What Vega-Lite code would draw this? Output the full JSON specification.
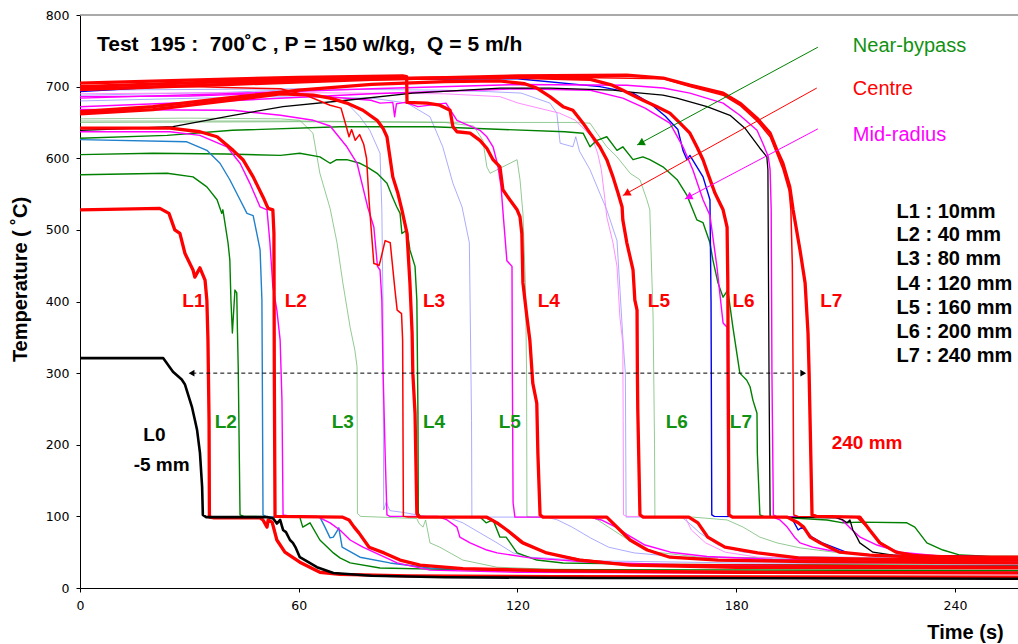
{
"$schema": "https://vega.github.io/schema/vega-lite/v6.json",
"width": 938, "height": 573,
"autosize": {"type": "none"},
"padding": {"left": 80, "top": 15, "right": 0, "bottom": 56},
"background": "white",
"config": {"view": {"stroke": null}, "axis": {"grid": false}},
"datasets": {
"curves": [
{"s":"L0","t":0,"T":321},{"s":"L0","t":22.8,"T":321},{"s":"L0","t":25.5,"T":302},{"s":"L0","t":27.9,"T":291},{"s":"L0","t":28.8,"T":284},{"s":"L0","t":30.7,"T":253},{"s":"L0","t":31.5,"T":235},{"s":"L0","t":32.1,"T":221},{"s":"L0","t":32.9,"T":189},{"s":"L0","t":33.5,"T":141},{"s":"L0","t":33.7,"T":102},{"s":"L0","t":34.6,"T":99},{"s":"L0","t":51.3,"T":99},{"s":"L0","t":53,"T":97},{"s":"L0","t":54,"T":90},{"s":"L0","t":54.9,"T":95},{"s":"L0","t":55.7,"T":81},{"s":"L0","t":56.5,"T":78},{"s":"L0","t":57.6,"T":67},{"s":"L0","t":58.4,"T":63},{"s":"L0","t":59.2,"T":56},{"s":"L0","t":60.3,"T":43},{"s":"L0","t":65,"T":29},{"s":"L0","t":69.5,"T":21},{"s":"L0","t":80,"T":17},{"s":"L0","t":100,"T":15},{"s":"L0","t":140,"T":14},{"s":"L0","t":257.5,"T":13},
{"s":"K","t":0,"T":639},{"s":"K","t":25.5,"T":644},{"s":"K","t":42,"T":660},{"s":"K","t":55.7,"T":672},{"s":"K","t":73.2,"T":681},{"s":"K","t":91.3,"T":691},{"s":"K","t":115.2,"T":698},{"s":"K","t":128.9,"T":698},{"s":"K","t":146.2,"T":695},{"s":"K","t":151.7,"T":692},{"s":"K","t":159.9,"T":688},{"s":"K","t":163.7,"T":684},{"s":"K","t":172,"T":672},{"s":"K","t":178.3,"T":660},{"s":"K","t":182.4,"T":642},{"s":"K","t":186.5,"T":614},{"s":"K","t":188.4,"T":602},{"s":"K","t":188.7,"T":584},{"s":"K","t":189,"T":300},{"s":"K","t":189.3,"T":99},{"s":"K","t":207.6,"T":98},{"s":"K","t":209.3,"T":95},{"s":"K","t":210.4,"T":91},{"s":"K","t":211.2,"T":95},{"s":"K","t":212,"T":81},{"s":"K","t":213.1,"T":71},{"s":"K","t":213.9,"T":63},{"s":"K","t":217.5,"T":50},{"s":"K","t":223,"T":46},{"s":"K","t":257.5,"T":43},
{"s":"R1","t":0,"T":528},{"s":"R1","t":21.9,"T":530},{"s":"R1","t":24.4,"T":523},{"s":"R1","t":26,"T":500},{"s":"R1","t":27.4,"T":495},{"s":"R1","t":28.8,"T":467},{"s":"R1","t":31,"T":444},{"s":"R1","t":31.5,"T":434},{"s":"R1","t":32.9,"T":447},{"s":"R1","t":34.3,"T":430},{"s":"R1","t":34.8,"T":402},{"s":"R1","t":35.1,"T":346},{"s":"R1","t":35.4,"T":234},{"s":"R1","t":35.5,"T":99},{"s":"R1","t":36.8,"T":98},{"s":"R1","t":49.4,"T":98},{"s":"R1","t":50.2,"T":95},{"s":"R1","t":51.3,"T":85},{"s":"R1","t":51.6,"T":95},{"s":"R1","t":52.7,"T":92},{"s":"R1","t":54,"T":67},{"s":"R1","t":56.2,"T":50},{"s":"R1","t":60.3,"T":36},{"s":"R1","t":65.8,"T":22},{"s":"R1","t":71.3,"T":19},{"s":"R1","t":90,"T":17},{"s":"R1","t":130,"T":16},{"s":"R1","t":257.5,"T":15},
{"s":"R2","t":0,"T":642},{"s":"R2","t":24.7,"T":642},{"s":"R2","t":32.9,"T":637},{"s":"R2","t":37.6,"T":630},{"s":"R2","t":42,"T":611},{"s":"R2","t":44.7,"T":598},{"s":"R2","t":47.5,"T":574},{"s":"R2","t":50.2,"T":546},{"s":"R2","t":51.6,"T":530},{"s":"R2","t":52.9,"T":528},{"s":"R2","t":53.2,"T":495},{"s":"R2","t":53.3,"T":300},{"s":"R2","t":53.5,"T":100},{"s":"R2","t":71.9,"T":99},{"s":"R2","t":73.8,"T":95},{"s":"R2","t":75.2,"T":85},{"s":"R2","t":76.5,"T":77},{"s":"R2","t":79.3,"T":57},{"s":"R2","t":83.4,"T":49},{"s":"R2","t":87.8,"T":39},{"s":"R2","t":93.3,"T":32},{"s":"R2","t":105,"T":27},{"s":"R2","t":130,"T":24},{"s":"R2","t":180,"T":22},{"s":"R2","t":257.5,"T":21},
{"s":"R3","t":0,"T":662},{"s":"R3","t":20,"T":668},{"s":"R3","t":40,"T":680},{"s":"R3","t":55,"T":690},{"s":"R3","t":64,"T":688},{"s":"R3","t":68.6,"T":684},{"s":"R3","t":73.2,"T":677},{"s":"R3","t":77.6,"T":667},{"s":"R3","t":81.5,"T":653},{"s":"R3","t":83.1,"T":642},{"s":"R3","t":84.2,"T":630},{"s":"R3","t":85,"T":602},{"s":"R3","t":85.8,"T":574},{"s":"R3","t":87.2,"T":551},{"s":"R3","t":88.3,"T":528},{"s":"R3","t":89.7,"T":495},{"s":"R3","t":90.5,"T":426},{"s":"R3","t":91.1,"T":356},{"s":"R3","t":91.3,"T":300},{"s":"R3","t":91.9,"T":244},{"s":"R3","t":92.4,"T":104},{"s":"R3","t":93,"T":99},{"s":"R3","t":111.6,"T":99},{"s":"R3","t":114.4,"T":91},{"s":"R3","t":117.1,"T":81},{"s":"R3","t":121.5,"T":63},{"s":"R3","t":128,"T":49},{"s":"R3","t":137,"T":39},{"s":"R3","t":150.9,"T":32},{"s":"R3","t":180,"T":29},{"s":"R3","t":257.5,"T":28},
{"s":"R4","t":0,"T":705},{"s":"R4","t":30,"T":709},{"s":"R4","t":60,"T":713},{"s":"R4","t":88.5,"T":715},{"s":"R4","t":89.6,"T":714},{"s":"R4","t":89.7,"T":678},{"s":"R4","t":95.2,"T":677},{"s":"R4","t":98.7,"T":674},{"s":"R4","t":101.5,"T":667},{"s":"R4","t":102.3,"T":644},{"s":"R4","t":103.4,"T":637},{"s":"R4","t":107,"T":635},{"s":"R4","t":109.7,"T":625},{"s":"R4","t":111.6,"T":614},{"s":"R4","t":113.3,"T":598},{"s":"R4","t":115.2,"T":588},{"s":"R4","t":116,"T":556},{"s":"R4","t":117.9,"T":542},{"s":"R4","t":119.9,"T":528},{"s":"R4","t":120.7,"T":518},{"s":"R4","t":121.2,"T":495},{"s":"R4","t":121.5,"T":426},{"s":"R4","t":122.6,"T":378},{"s":"R4","t":123.4,"T":346},{"s":"R4","t":124.2,"T":286},{"s":"R4","t":125.3,"T":258},{"s":"R4","t":125.6,"T":188},{"s":"R4","t":126.2,"T":102},{"s":"R4","t":127,"T":99},{"s":"R4","t":144.5,"T":99},{"s":"R4","t":148.1,"T":81},{"s":"R4","t":150.9,"T":67},{"s":"R4","t":155.6,"T":53},{"s":"R4","t":161.8,"T":43},{"s":"R4","t":175,"T":39},{"s":"R4","t":200,"T":37},{"s":"R4","t":257.5,"T":35},
{"s":"R5","t":0,"T":665},{"s":"R5","t":20,"T":672},{"s":"R5","t":40,"T":684},{"s":"R5","t":60,"T":695},{"s":"R5","t":80,"T":703},{"s":"R5","t":100,"T":707},{"s":"R5","t":115,"T":708},{"s":"R5","t":122,"T":704},{"s":"R5","t":125.3,"T":698},{"s":"R5","t":128.9,"T":686},{"s":"R5","t":132.5,"T":672},{"s":"R5","t":135.2,"T":667},{"s":"R5","t":138,"T":649},{"s":"R5","t":139.9,"T":635},{"s":"R5","t":142.6,"T":616},{"s":"R5","t":144.5,"T":598},{"s":"R5","t":146.2,"T":574},{"s":"R5","t":147.6,"T":551},{"s":"R5","t":148.7,"T":532},{"s":"R5","t":148.9,"T":514},{"s":"R5","t":150,"T":482},{"s":"R5","t":151.7,"T":444},{"s":"R5","t":152.2,"T":402},{"s":"R5","t":152.8,"T":388},{"s":"R5","t":152.9,"T":300},{"s":"R5","t":153,"T":250},{"s":"R5","t":153.6,"T":102},{"s":"R5","t":154.5,"T":99},{"s":"R5","t":167,"T":99},{"s":"R5","t":169.5,"T":91},{"s":"R5","t":172.2,"T":71},{"s":"R5","t":176.9,"T":57},{"s":"R5","t":185.9,"T":49},{"s":"R5","t":197,"T":42},{"s":"R5","t":220,"T":40},{"s":"R5","t":257.5,"T":39},
{"s":"R6","t":0,"T":700},{"s":"R6","t":40,"T":707},{"s":"R6","t":80,"T":711},{"s":"R6","t":120,"T":713},{"s":"R6","t":140,"T":710},{"s":"R6","t":146,"T":702},{"s":"R6","t":148.9,"T":695},{"s":"R6","t":154.4,"T":681},{"s":"R6","t":158.3,"T":672},{"s":"R6","t":161.8,"T":663},{"s":"R6","t":164.6,"T":649},{"s":"R6","t":167.3,"T":635},{"s":"R6","t":169.2,"T":616},{"s":"R6","t":170.9,"T":598},{"s":"R6","t":172.2,"T":579},{"s":"R6","t":174.2,"T":551},{"s":"R6","t":176.4,"T":528},{"s":"R6","t":177.5,"T":504},{"s":"R6","t":177.7,"T":426},{"s":"R6","t":177.8,"T":300},{"s":"R6","t":178,"T":102},{"s":"R6","t":179,"T":99},{"s":"R6","t":194,"T":99},{"s":"R6","t":195.5,"T":95},{"s":"R6","t":197,"T":91},{"s":"R6","t":198.5,"T":85},{"s":"R6","t":200.3,"T":71},{"s":"R6","t":203,"T":63},{"s":"R6","t":208.4,"T":50},{"s":"R6","t":216.6,"T":46},{"s":"R6","t":230,"T":43},{"s":"R6","t":257.5,"T":42},
{"s":"R7","t":0,"T":696},{"s":"R7","t":40,"T":703},{"s":"R7","t":80,"T":710},{"s":"R7","t":120,"T":715},{"s":"R7","t":150,"T":716},{"s":"R7","t":160,"T":712},{"s":"R7","t":167.3,"T":702},{"s":"R7","t":176.4,"T":691},{"s":"R7","t":181,"T":677},{"s":"R7","t":185.7,"T":656},{"s":"R7","t":189.3,"T":635},{"s":"R7","t":191.2,"T":611},{"s":"R7","t":192.8,"T":593},{"s":"R7","t":194.7,"T":560},{"s":"R7","t":195.6,"T":528},{"s":"R7","t":197.5,"T":472},{"s":"R7","t":198.9,"T":426},{"s":"R7","t":199.7,"T":356},{"s":"R7","t":200,"T":300},{"s":"R7","t":200.8,"T":102},{"s":"R7","t":202,"T":100},{"s":"R7","t":213.9,"T":99},{"s":"R7","t":216.6,"T":81},{"s":"R7","t":219.4,"T":63},{"s":"R7","t":223.8,"T":50},{"s":"R7","t":229.3,"T":45},{"s":"R7","t":240,"T":43},{"s":"R7","t":257.5,"T":43},
{"s":"r7","t":0,"T":700},{"s":"r7","t":60,"T":711},{"s":"r7","t":120,"T":714},{"s":"r7","t":160,"T":711},{"s":"r7","t":167.3,"T":700},{"s":"r7","t":176.4,"T":688},{"s":"r7","t":181,"T":674},{"s":"r7","t":185.7,"T":652},{"s":"r7","t":189.3,"T":630},{"s":"r7","t":191.2,"T":606},{"s":"r7","t":192.8,"T":585},{"s":"r7","t":194.5,"T":555},{"s":"r7","t":195,"T":528},{"s":"r7","t":195.4,"T":450},{"s":"r7","t":195.6,"T":300},{"s":"r7","t":195.8,"T":102},{"s":"r7","t":197,"T":100},{"s":"r7","t":213,"T":99},{"s":"r7","t":216,"T":85},{"s":"r7","t":219,"T":65},{"s":"r7","t":224,"T":50},{"s":"r7","t":230,"T":45},{"s":"r7","t":257.5,"T":43},
{"s":"r3","t":0,"T":698},{"s":"r3","t":30,"T":700},{"s":"r3","t":55,"T":697},{"s":"r3","t":62,"T":688},{"s":"r3","t":68.6,"T":674},{"s":"r3","t":71.6,"T":670},{"s":"r3","t":73,"T":645},{"s":"r3","t":73.8,"T":630},{"s":"r3","t":74.5,"T":640},{"s":"r3","t":75.5,"T":625},{"s":"r3","t":76.7,"T":633},{"s":"r3","t":77.8,"T":620},{"s":"r3","t":78.6,"T":600},{"s":"r3","t":79.3,"T":540},{"s":"r3","t":80.6,"T":453},{"s":"r3","t":81.3,"T":452},{"s":"r3","t":82,"T":450},{"s":"r3","t":82.4,"T":457},{"s":"r3","t":83.7,"T":485},{"s":"r3","t":85.1,"T":482},{"s":"r3","t":86.4,"T":416},{"s":"r3","t":87,"T":388},{"s":"r3","t":88.2,"T":383},{"s":"r3","t":88.5,"T":346},{"s":"r3","t":88.7,"T":100},{"s":"r3","t":90,"T":99},{"s":"r3","t":111,"T":99},{"s":"r3","t":114,"T":91},{"s":"r3","t":117,"T":81},{"s":"r3","t":121,"T":63},{"s":"r3","t":128,"T":49},{"s":"r3","t":137,"T":40},{"s":"r3","t":150,"T":33},{"s":"r3","t":257.5,"T":30},
{"s":"M2","t":0,"T":637},{"s":"M2","t":24.7,"T":637},{"s":"M2","t":32.9,"T":632},{"s":"M2","t":40.3,"T":616},{"s":"M2","t":43.9,"T":593},{"s":"M2","t":46.6,"T":565},{"s":"M2","t":49.4,"T":532},{"s":"M2","t":51.3,"T":528},{"s":"M2","t":52.1,"T":482},{"s":"M2","t":52.9,"T":421},{"s":"M2","t":54,"T":388},{"s":"M2","t":54.9,"T":346},{"s":"M2","t":55.4,"T":262},{"s":"M2","t":55.7,"T":102},{"s":"M2","t":57,"T":101},{"s":"M2","t":65,"T":100},{"s":"M2","t":68.6,"T":91},{"s":"M2","t":71.3,"T":81},{"s":"M2","t":74.1,"T":67},{"s":"M2","t":77.6,"T":57},{"s":"M2","t":87,"T":35},{"s":"M2","t":96,"T":25},{"s":"M2","t":120,"T":22},{"s":"M2","t":257.5,"T":20},
{"s":"M3","t":0,"T":668},{"s":"M3","t":42,"T":667},{"s":"M3","t":55,"T":660},{"s":"M3","t":64,"T":653},{"s":"M3","t":68.6,"T":645},{"s":"M3","t":73.2,"T":616},{"s":"M3","t":76,"T":593},{"s":"M3","t":78.9,"T":532},{"s":"M3","t":80.6,"T":504},{"s":"M3","t":81.6,"T":449},{"s":"M3","t":82.3,"T":444},{"s":"M3","t":82.8,"T":402},{"s":"M3","t":83.1,"T":309},{"s":"M3","t":83.7,"T":188},{"s":"M3","t":84.2,"T":102},{"s":"M3","t":85,"T":100},{"s":"M3","t":98,"T":100},{"s":"M3","t":100.7,"T":95},{"s":"M3","t":103.4,"T":85},{"s":"M3","t":104.2,"T":71},{"s":"M3","t":107,"T":63},{"s":"M3","t":111.6,"T":53},{"s":"M3","t":114.4,"T":49},{"s":"M3","t":123.4,"T":42},{"s":"M3","t":140,"T":36},{"s":"M3","t":170,"T":32},{"s":"M3","t":257.5,"T":30},
{"s":"M4","t":0,"T":686},{"s":"M4","t":30,"T":687},{"s":"M4","t":55,"T":691},{"s":"M4","t":79.8,"T":681},{"s":"M4","t":82.3,"T":677},{"s":"M4","t":85.8,"T":678},{"s":"M4","t":86.3,"T":658},{"s":"M4","t":86.8,"T":676},{"s":"M4","t":89.2,"T":678},{"s":"M4","t":92.7,"T":672},{"s":"M4","t":100.4,"T":677},{"s":"M4","t":103.4,"T":653},{"s":"M4","t":109.7,"T":639},{"s":"M4","t":111.6,"T":630},{"s":"M4","t":113.3,"T":616},{"s":"M4","t":114.6,"T":590},{"s":"M4","t":115.5,"T":560},{"s":"M4","t":116.2,"T":514},{"s":"M4","t":117.1,"T":457},{"s":"M4","t":118.5,"T":449},{"s":"M4","t":118.6,"T":300},{"s":"M4","t":118.8,"T":119},{"s":"M4","t":119.3,"T":99},{"s":"M4","t":140,"T":99},{"s":"M4","t":143,"T":95},{"s":"M4","t":147,"T":85},{"s":"M4","t":150,"T":75},{"s":"M4","t":155,"T":60},{"s":"M4","t":162,"T":50},{"s":"M4","t":172,"T":44},{"s":"M4","t":190,"T":40},{"s":"M4","t":257.5,"T":38},
{"s":"M6","t":0,"T":672},{"s":"M6","t":40,"T":680},{"s":"M6","t":80,"T":690},{"s":"M6","t":120,"T":697},{"s":"M6","t":140,"T":695},{"s":"M6","t":148.9,"T":684},{"s":"M6","t":155,"T":670},{"s":"M6","t":161.8,"T":649},{"s":"M6","t":165.4,"T":616},{"s":"M6","t":168.1,"T":584},{"s":"M6","t":170.9,"T":542},{"s":"M6","t":172.8,"T":520},{"s":"M6","t":174.7,"T":449},{"s":"M6","t":176.4,"T":370},{"s":"M6","t":177.5,"T":364},{"s":"M6","t":177.6,"T":300},{"s":"M6","t":177.7,"T":102},{"s":"M6","t":178.5,"T":100},{"s":"M6","t":190,"T":99},{"s":"M6","t":192,"T":95},{"s":"M6","t":194,"T":85},{"s":"M6","t":196,"T":71},{"s":"M6","t":197.5,"T":63},{"s":"M6","t":201,"T":57},{"s":"M6","t":205,"T":53},{"s":"M6","t":210.4,"T":49},{"s":"M6","t":220,"T":45},{"s":"M6","t":257.5,"T":43},
{"s":"M7","t":0,"T":684},{"s":"M7","t":40,"T":690},{"s":"M7","t":80,"T":697},{"s":"M7","t":120,"T":703},{"s":"M7","t":150,"T":702},{"s":"M7","t":160,"T":698},{"s":"M7","t":167.3,"T":691},{"s":"M7","t":176.4,"T":677},{"s":"M7","t":181,"T":660},{"s":"M7","t":185.7,"T":639},{"s":"M7","t":187.3,"T":621},{"s":"M7","t":188.8,"T":602},{"s":"M7","t":189.3,"T":584},{"s":"M7","t":189.6,"T":528},{"s":"M7","t":189.8,"T":300},{"s":"M7","t":190.2,"T":102},{"s":"M7","t":191,"T":100},{"s":"M7","t":207,"T":99},{"s":"M7","t":209,"T":95},{"s":"M7","t":211,"T":85},{"s":"M7","t":214,"T":71},{"s":"M7","t":218.6,"T":60},{"s":"M7","t":225,"T":50},{"s":"M7","t":235,"T":45},{"s":"M7","t":257.5,"T":43},
{"s":"m5","t":0,"T":690},{"s":"m5","t":50,"T":692},{"s":"m5","t":100,"T":690},{"s":"m5","t":115.2,"T":686},{"s":"m5","t":120.2,"T":677},{"s":"m5","t":131.5,"T":663},{"s":"m5","t":135.9,"T":653},{"s":"m5","t":140.4,"T":630},{"s":"m5","t":142,"T":607},{"s":"m5","t":143,"T":584},{"s":"m5","t":144,"T":542},{"s":"m5","t":144.5,"T":518},{"s":"m5","t":146.2,"T":482},{"s":"m5","t":147.3,"T":449},{"s":"m5","t":148.1,"T":378},{"s":"m5","t":148.9,"T":342},{"s":"m5","t":149,"T":234},{"s":"m5","t":149.1,"T":102},{"s":"m5","t":150,"T":100},{"s":"m5","t":166,"T":99},{"s":"m5","t":167.7,"T":81},{"s":"m5","t":171.6,"T":63},{"s":"m5","t":177,"T":50},{"s":"m5","t":186,"T":43},{"s":"m5","t":220,"T":40},{"s":"m5","t":257.5,"T":39},
{"s":"B6","t":0,"T":693},{"s":"B6","t":30,"T":702},{"s":"B6","t":71.3,"T":710},{"s":"B6","t":120,"T":711},{"s":"B6","t":142.6,"T":700},{"s":"B6","t":151.7,"T":691},{"s":"B6","t":156.3,"T":677},{"s":"B6","t":160.5,"T":659},{"s":"B6","t":164,"T":640},{"s":"B6","t":165.4,"T":611},{"s":"B6","t":166.5,"T":598},{"s":"B6","t":167.3,"T":604},{"s":"B6","t":170.9,"T":574},{"s":"B6","t":172.8,"T":542},{"s":"B6","t":173.1,"T":400},{"s":"B6","t":173.3,"T":102},{"s":"B6","t":174,"T":100},{"s":"B6","t":194,"T":99},{"s":"B6","t":195.5,"T":95},{"s":"B6","t":197,"T":81},{"s":"B6","t":198.1,"T":85},{"s":"B6","t":200.8,"T":71},{"s":"B6","t":203.6,"T":63},{"s":"B6","t":210.7,"T":49},{"s":"B6","t":215.4,"T":46},{"s":"B6","t":257.5,"T":43},
{"s":"S2","t":0,"T":626},{"s":"S2","t":29.3,"T":623},{"s":"S2","t":34.8,"T":611},{"s":"S2","t":38.4,"T":593},{"s":"S2","t":41.1,"T":570},{"s":"S2","t":43.9,"T":542},{"s":"S2","t":45.8,"T":523},{"s":"S2","t":47.5,"T":520},{"s":"S2","t":48.5,"T":495},{"s":"S2","t":49.4,"T":472},{"s":"S2","t":49.9,"T":402},{"s":"S2","t":50,"T":309},{"s":"S2","t":50.2,"T":102},{"s":"S2","t":51,"T":100},{"s":"S2","t":65.8,"T":99},{"s":"S2","t":67.2,"T":85},{"s":"S2","t":68.6,"T":70},{"s":"S2","t":69.5,"T":71},{"s":"S2","t":70.7,"T":81},{"s":"S2","t":71,"T":84},{"s":"S2","t":71.9,"T":57},{"s":"S2","t":76.8,"T":43},{"s":"S2","t":85,"T":35},{"s":"S2","t":96,"T":28},{"s":"S2","t":109.7,"T":25},{"s":"S2","t":140,"T":23},{"s":"S2","t":257.5,"T":22},
{"s":"b3","t":0,"T":688},{"s":"b3","t":40,"T":692},{"s":"b3","t":55,"T":695},{"s":"b3","t":68.6,"T":686},{"s":"b3","t":73.2,"T":677},{"s":"b3","t":76.8,"T":658},{"s":"b3","t":79.5,"T":639},{"s":"b3","t":82.3,"T":607},{"s":"b3","t":82.8,"T":528},{"s":"b3","t":83.1,"T":400},{"s":"b3","t":83.3,"T":109},{"s":"b3","t":84,"T":120},{"s":"b3","t":85,"T":108},{"s":"b3","t":88,"T":106},{"s":"b3","t":96,"T":99},{"s":"b3","t":100.7,"T":99},{"s":"b3","t":105,"T":91},{"s":"b3","t":109.7,"T":77},{"s":"b3","t":114.4,"T":63},{"s":"b3","t":118.8,"T":49},{"s":"b3","t":123.4,"T":43},{"s":"b3","t":140,"T":38},{"s":"b3","t":180,"T":35},{"s":"b3","t":257.5,"T":33},
{"s":"b4","t":0,"T":680},{"s":"b4","t":50,"T":686},{"s":"b4","t":80,"T":684},{"s":"b4","t":89.7,"T":677},{"s":"b4","t":96,"T":658},{"s":"b4","t":99.5,"T":616},{"s":"b4","t":102.3,"T":565},{"s":"b4","t":104.8,"T":532},{"s":"b4","t":106.8,"T":482},{"s":"b4","t":107,"T":402},{"s":"b4","t":107.4,"T":234},{"s":"b4","t":107.5,"T":99},{"s":"b4","t":128,"T":99},{"s":"b4","t":131,"T":95},{"s":"b4","t":135,"T":85},{"s":"b4","t":140,"T":70},{"s":"b4","t":145,"T":57},{"s":"b4","t":152,"T":49},{"s":"b4","t":165,"T":43},{"s":"b4","t":257.5,"T":38},
{"s":"b5","t":0,"T":695},{"s":"b5","t":60,"T":697},{"s":"b5","t":100,"T":695},{"s":"b5","t":112,"T":693},{"s":"b5","t":121,"T":691},{"s":"b5","t":128.9,"T":677},{"s":"b5","t":130.8,"T":663},{"s":"b5","t":131.7,"T":621},{"s":"b5","t":135.2,"T":616},{"s":"b5","t":136,"T":630},{"s":"b5","t":137,"T":610},{"s":"b5","t":139.9,"T":584},{"s":"b5","t":142.6,"T":551},{"s":"b5","t":144.5,"T":528},{"s":"b5","t":147.3,"T":485},{"s":"b5","t":149,"T":342},{"s":"b5","t":149.6,"T":300},{"s":"b5","t":149.8,"T":99},{"s":"b5","t":165,"T":99},{"s":"b5","t":167,"T":91},{"s":"b5","t":170,"T":77},{"s":"b5","t":175,"T":60},{"s":"b5","t":182,"T":50},{"s":"b5","t":195,"T":44},{"s":"b5","t":257.5,"T":40},
{"s":"G2","t":0,"T":577},{"s":"G2","t":23.9,"T":579},{"s":"G2","t":31,"T":574},{"s":"G2","t":34.8,"T":560},{"s":"G2","t":37.6,"T":542},{"s":"G2","t":38.9,"T":523},{"s":"G2","t":39.2,"T":528},{"s":"G2","t":40.6,"T":482},{"s":"G2","t":41.1,"T":458},{"s":"G2","t":41.4,"T":402},{"s":"G2","t":41.8,"T":356},{"s":"G2","t":42.5,"T":416},{"s":"G2","t":43,"T":412},{"s":"G2","t":43.2,"T":356},{"s":"G2","t":43.4,"T":309},{"s":"G2","t":43.9,"T":102},{"s":"G2","t":45,"T":100},{"s":"G2","t":60.3,"T":99},{"s":"G2","t":61.1,"T":85},{"s":"G2","t":63.1,"T":91},{"s":"G2","t":65.8,"T":67},{"s":"G2","t":69.5,"T":49},{"s":"G2","t":71.3,"T":42},{"s":"G2","t":74.1,"T":35},{"s":"G2","t":82.3,"T":28},{"s":"G2","t":100,"T":26},{"s":"G2","t":257.5,"T":24},
{"s":"G4","t":0,"T":605},{"s":"G4","t":20,"T":607},{"s":"G4","t":40,"T":606},{"s":"G4","t":55,"T":604},{"s":"G4","t":60.3,"T":607},{"s":"G4","t":65.8,"T":602},{"s":"G4","t":68.6,"T":593},{"s":"G4","t":70.4,"T":598},{"s":"G4","t":73.2,"T":598},{"s":"G4","t":76.8,"T":593},{"s":"G4","t":78.7,"T":588},{"s":"G4","t":81.5,"T":579},{"s":"G4","t":84.2,"T":565},{"s":"G4","t":85.8,"T":545},{"s":"G4","t":86.9,"T":532},{"s":"G4","t":87.8,"T":523},{"s":"G4","t":88.3,"T":495},{"s":"G4","t":89.7,"T":500},{"s":"G4","t":90.5,"T":472},{"s":"G4","t":91.9,"T":449},{"s":"G4","t":92.4,"T":402},{"s":"G4","t":92.7,"T":244},{"s":"G4","t":92.8,"T":104},{"s":"G4","t":93.5,"T":99},{"s":"G4","t":109.7,"T":99},{"s":"G4","t":111.4,"T":91},{"s":"G4","t":113.3,"T":95},{"s":"G4","t":114.1,"T":85},{"s":"G4","t":115.2,"T":71},{"s":"G4","t":116.9,"T":71},{"s":"G4","t":118,"T":63},{"s":"G4","t":119.9,"T":49},{"s":"G4","t":125.3,"T":39},{"s":"G4","t":132.5,"T":35},{"s":"G4","t":160,"T":33},{"s":"G4","t":257.5,"T":31},
{"s":"G7","t":0,"T":628},{"s":"G7","t":23.9,"T":632},{"s":"G7","t":41.8,"T":639},{"s":"G7","t":71.3,"T":644},{"s":"G7","t":96.6,"T":644},{"s":"G7","t":133,"T":637},{"s":"G7","t":138,"T":635},{"s":"G7","t":139.9,"T":616},{"s":"G7","t":141.8,"T":625},{"s":"G7","t":144.5,"T":630},{"s":"G7","t":147.3,"T":611},{"s":"G7","t":148.9,"T":616},{"s":"G7","t":151.7,"T":598},{"s":"G7","t":154.4,"T":602},{"s":"G7","t":156.3,"T":598},{"s":"G7","t":159.9,"T":588},{"s":"G7","t":163.8,"T":570},{"s":"G7","t":166.5,"T":548},{"s":"G7","t":169.2,"T":514},{"s":"G7","t":170.9,"T":510},{"s":"G7","t":172.8,"T":482},{"s":"G7","t":173.6,"T":458},{"s":"G7","t":175,"T":426},{"s":"G7","t":176.4,"T":406},{"s":"G7","t":177.7,"T":416},{"s":"G7","t":179.1,"T":364},{"s":"G7","t":181,"T":300},{"s":"G7","t":182.9,"T":290},{"s":"G7","t":183.8,"T":281},{"s":"G7","t":184.6,"T":262},{"s":"G7","t":185.7,"T":244},{"s":"G7","t":185.8,"T":188},{"s":"G7","t":186.5,"T":102},{"s":"G7","t":187.5,"T":100},{"s":"G7","t":204.9,"T":95},{"s":"G7","t":209.3,"T":91},{"s":"G7","t":214,"T":92},{"s":"G7","t":226.8,"T":91},{"s":"G7","t":229,"T":85},{"s":"G7","t":232.3,"T":63},{"s":"G7","t":236.7,"T":53},{"s":"G7","t":241.4,"T":46},{"s":"G7","t":250,"T":44},{"s":"G7","t":257.5,"T":44},
{"s":"g3","t":0,"T":655},{"s":"g3","t":30,"T":656},{"s":"g3","t":55,"T":655},{"s":"g3","t":60.3,"T":653},{"s":"g3","t":63.9,"T":635},{"s":"g3","t":65.8,"T":579},{"s":"g3","t":68.6,"T":530},{"s":"g3","t":70.5,"T":482},{"s":"g3","t":72.1,"T":426},{"s":"g3","t":74.1,"T":364},{"s":"g3","t":75.4,"T":332},{"s":"g3","t":76,"T":309},{"s":"g3","t":76.1,"T":104},{"s":"g3","t":77,"T":100},{"s":"g3","t":92.4,"T":97},{"s":"g3","t":93,"T":90},{"s":"g3","t":94.1,"T":85},{"s":"g3","t":94.8,"T":95},{"s":"g3","t":96,"T":63},{"s":"g3","t":98.7,"T":57},{"s":"g3","t":105,"T":39},{"s":"g3","t":114.4,"T":29},{"s":"g3","t":130,"T":26},{"s":"g3","t":257.5,"T":25},
{"s":"g5","t":0,"T":652},{"s":"g5","t":60,"T":652},{"s":"g5","t":100,"T":650},{"s":"g5","t":108,"T":645},{"s":"g5","t":110.5,"T":625},{"s":"g5","t":111.6,"T":588},{"s":"g5","t":112.5,"T":579},{"s":"g5","t":116,"T":588},{"s":"g5","t":119.9,"T":598},{"s":"g5","t":120.7,"T":570},{"s":"g5","t":121.5,"T":523},{"s":"g5","t":122.2,"T":420},{"s":"g5","t":122.5,"T":300},{"s":"g5","t":122.6,"T":100},{"s":"g5","t":123.5,"T":99},{"s":"g5","t":140,"T":99},{"s":"g5","t":142,"T":95},{"s":"g5","t":145,"T":85},{"s":"g5","t":148,"T":75},{"s":"g5","t":152,"T":62},{"s":"g5","t":158,"T":50},{"s":"g5","t":170,"T":43},{"s":"g5","t":257.5,"T":40},
{"s":"g6","t":0,"T":650},{"s":"g6","t":60,"T":651},{"s":"g6","t":120,"T":650},{"s":"g6","t":135,"T":650},{"s":"g6","t":139.9,"T":649},{"s":"g6","t":141.8,"T":635},{"s":"g6","t":144.5,"T":616},{"s":"g6","t":147.3,"T":602},{"s":"g6","t":150.9,"T":579},{"s":"g6","t":153.6,"T":570},{"s":"g6","t":155.5,"T":542},{"s":"g6","t":156.3,"T":528},{"s":"g6","t":157.2,"T":378},{"s":"g6","t":157.6,"T":200},{"s":"g6","t":157.7,"T":100},{"s":"g6","t":158.5,"T":99},{"s":"g6","t":168,"T":99},{"s":"g6","t":177.5,"T":95},{"s":"g6","t":181.9,"T":85},{"s":"g6","t":186.5,"T":71},{"s":"g6","t":191.2,"T":63},{"s":"g6","t":197.5,"T":56},{"s":"g6","t":210,"T":48},{"s":"g6","t":230,"T":44},{"s":"g6","t":257.5,"T":42}
]
},
"encoding": {
"x": {"field": "t", "type": "quantitative", "scale": {"domain": [0, 257.3], "nice": false, "zero": false},
 "axis": {"values": [0, 60, 120, 180, 240], "title": "Time (s)", "titleX": 885, "titleY": 44, "titleAlign": "center", "titleBaseline": "middle", "titleFont": "Liberation Sans", "titleFontSize": 20, "titleFontWeight": "bold", "titleColor": "black", "labelFont": "DejaVu Sans", "labelFontSize": 12.5, "labelColor": "black", "labelFlush": false, "tickSize": 4, "labelPadding": 7, "domainColor": "black", "tickColor": "black", "grid": false}},
"y": {"field": "T", "type": "quantitative", "scale": {"domain": [0, 800], "nice": false, "zero": false},
 "axis": {"values": [0, 100, 200, 300, 400, 500, 600, 700, 800], "title": "Temperature ( ˚C)", "titleX": -60, "titleY": 264, "titleAngle": -90, "titleAlign": "center", "titleBaseline": "middle", "titleFont": "Liberation Sans", "titleFontSize": 20, "titleFontWeight": "bold", "titleColor": "black", "labelFont": "DejaVu Sans", "labelFontSize": 12.5, "labelColor": "black", "labelFlush": false, "tickSize": 4, "labelPadding": 7, "domainColor": "black", "tickColor": "black", "grid": false}}
},
"layer": [
{"data": {"values": [{"t": 0, "t2": 257.3, "T": 800}]}, "mark": {"type": "rule", "color": "#8c8c8c", "strokeWidth": 1.5}, "encoding": {"x2": {"field": "t2"}}},
{"data": {"name": "curves"}, "transform": [{"filter": {"field": "s", "oneOf": ["b3", "b4", "b5"]}}], "mark": {"type": "line", "color": "#7a7aff", "strokeWidth": 0.8, "opacity": 0.8, "clip": true, "strokeJoin": "round"}, "encoding": {"detail": {"field": "s"}}},
{"data": {"name": "curves"}, "transform": [{"filter": {"field": "s", "oneOf": ["g3", "g5", "g6"]}}], "mark": {"type": "line", "color": "#5fb05f", "strokeWidth": 0.8, "opacity": 0.85, "clip": true, "strokeJoin": "round"}, "encoding": {"detail": {"field": "s"}}},
{"data": {"name": "curves"}, "transform": [{"filter": {"field": "s", "oneOf": ["m5"]}}], "mark": {"type": "line", "color": "#ff80ff", "strokeWidth": 0.9, "clip": true, "strokeJoin": "round"}, "encoding": {"detail": {"field": "s"}}},
{"data": {"name": "curves"}, "transform": [{"filter": {"field": "s", "oneOf": ["G2", "G4", "G7"]}}], "mark": {"type": "line", "color": "#008000", "strokeWidth": 1.4, "clip": true, "strokeJoin": "round"}, "encoding": {"detail": {"field": "s"}}},
{"data": {"name": "curves"}, "transform": [{"filter": {"field": "s", "oneOf": ["S2"]}}], "mark": {"type": "line", "color": "#1f80cc", "strokeWidth": 1.4, "clip": true, "strokeJoin": "round"}, "encoding": {"detail": {"field": "s"}}},
{"data": {"name": "curves"}, "transform": [{"filter": {"field": "s", "oneOf": ["B6"]}}], "mark": {"type": "line", "color": "#0000ee", "strokeWidth": 1.4, "clip": true, "strokeJoin": "round"}, "encoding": {"detail": {"field": "s"}}},
{"data": {"name": "curves"}, "transform": [{"filter": {"field": "s", "oneOf": ["M2", "M3", "M4", "M6", "M7"]}}], "mark": {"type": "line", "color": "#ff00ff", "strokeWidth": 1.4, "clip": true, "strokeJoin": "round"}, "encoding": {"detail": {"field": "s"}}},
{"data": {"name": "curves"}, "transform": [{"filter": {"field": "s", "oneOf": ["K"]}}], "mark": {"type": "line", "color": "black", "strokeWidth": 1.3, "clip": true, "strokeJoin": "round"}, "encoding": {"detail": {"field": "s"}}},
{"data": {"name": "curves"}, "transform": [{"filter": {"field": "s", "oneOf": ["r3", "r7"]}}], "mark": {"type": "line", "color": "#ff0000", "strokeWidth": 1.5, "clip": true, "strokeJoin": "round"}, "encoding": {"detail": {"field": "s"}}},
{"data": {"name": "curves"}, "transform": [{"filter": {"field": "s", "oneOf": ["R1", "R2", "R3", "R4", "R5", "R6", "R7"]}}], "mark": {"type": "line", "color": "#ff0000", "strokeWidth": 3.3, "clip": true, "strokeJoin": "round"}, "encoding": {"detail": {"field": "s"}}},
{"data": {"name": "curves"}, "transform": [{"filter": {"field": "s", "oneOf": ["L0"]}}], "mark": {"type": "line", "color": "black", "strokeWidth": 2.6, "clip": true, "strokeJoin": "round"}, "encoding": {"detail": {"field": "s"}}},
{"data": {"values": [{"t": 30.8, "t2": 198.2, "T": 300}]}, "mark": {"type": "rule", "color": "black", "strokeWidth": 1, "strokeDash": [4, 3]}, "encoding": {"x2": {"field": "t2"}}},
{"data": {"values": [{"t": 30.6, "T": 300}]}, "mark": {"type": "point", "shape": "triangle-left", "filled": true, "color": "black", "size": 45, "opacity": 1}},
{"data": {"values": [{"t": 198.4, "T": 300}]}, "mark": {"type": "point", "shape": "triangle-right", "filled": true, "color": "black", "size": 45, "opacity": 1}},
{"data": {"values": [{"t": 202.4, "T": 755, "t2": 152.8, "T2": 618.5}]}, "mark": {"type": "rule", "color": "#008000", "strokeWidth": 1}, "encoding": {"x2": {"field": "t2"}, "y2": {"field": "T2"}}},
{"data": {"values": [{"t": 202.1, "T": 698, "t2": 148.9, "T2": 548}]}, "mark": {"type": "rule", "color": "#ff0000", "strokeWidth": 1}, "encoding": {"x2": {"field": "t2"}, "y2": {"field": "T2"}}},
{"data": {"values": [{"t": 202.4, "T": 641, "t2": 165.9, "T2": 543}]}, "mark": {"type": "rule", "color": "#ff00ff", "strokeWidth": 1}, "encoding": {"x2": {"field": "t2"}, "y2": {"field": "T2"}}},
{"data": {"values": [{"t": 153.8, "T": 621}]}, "mark": {"type": "point", "shape": "triangle-up", "filled": true, "color": "#008000", "size": 70, "angle": 241.6, "opacity": 1}},
{"data": {"values": [{"t": 149.9, "T": 550.6}]}, "mark": {"type": "point", "shape": "triangle-up", "filled": true, "color": "#ff0000", "size": 70, "angle": 240.7, "opacity": 1}},
{"data": {"values": [{"t": 166.9, "T": 545.6}]}, "mark": {"type": "point", "shape": "triangle-up", "filled": true, "color": "#ff00ff", "size": 70, "angle": 242.2, "opacity": 1}},
{"data": {"values": [{"txt": "Test\u00a0\u00a0195\u00a0:\u00a0\u00a0700˚C , P = 150 w/kg,\u00a0\u00a0Q = 5 m/h", "t": 4.66, "T": 758}]}, "mark": {"type": "text", "align": "left", "baseline": "middle", "font": "Liberation Sans", "fontSize": 21, "fontWeight": "bold", "color": "black"}, "encoding": {"text": {"field": "txt"}}},
{"data": {"values": [{"txt": "Near-bypass", "t": 212.0, "T": 757}]}, "mark": {"type": "text", "align": "left", "baseline": "middle", "font": "Liberation Sans", "fontSize": 20, "color": "#129212"}, "encoding": {"text": {"field": "txt"}}},
{"data": {"values": [{"txt": "Centre", "t": 212.0, "T": 696}]}, "mark": {"type": "text", "align": "left", "baseline": "middle", "font": "Liberation Sans", "fontSize": 20, "color": "#ff0000"}, "encoding": {"text": {"field": "txt"}}},
{"data": {"values": [{"txt": "Mid-radius", "t": 212.0, "T": 633}]}, "mark": {"type": "text", "align": "left", "baseline": "middle", "font": "Liberation Sans", "fontSize": 20, "color": "#ff00ff"}, "encoding": {"text": {"field": "txt"}}},
{"data": {"values": [
 {"txt": "L1 : 10mm", "t": 224.0, "T": 525.6},
 {"txt": "L2 : 40 mm", "t": 224.0, "T": 492.8},
 {"txt": "L3 : 80 mm", "t": 224.0, "T": 459.2},
 {"txt": "L4 : 120 mm", "t": 224.0, "T": 424.4},
 {"txt": "L5 : 160 mm", "t": 224.0, "T": 390.9},
 {"txt": "L6 : 200 mm", "t": 224.0, "T": 357.4},
 {"txt": "L7 : 240 mm", "t": 224.0, "T": 323.9}]}, "mark": {"type": "text", "align": "left", "baseline": "middle", "font": "Liberation Sans", "fontSize": 20, "fontWeight": "bold", "color": "black"}, "encoding": {"text": {"field": "txt"}}},
{"data": {"values": [
 {"txt": "L1", "t": 31.1, "T": 401}, {"txt": "L2", "t": 59.2, "T": 401}, {"txt": "L3", "t": 97.1, "T": 401}, {"txt": "L4", "t": 128.6, "T": 401}, {"txt": "L5", "t": 158.8, "T": 401}, {"txt": "L6", "t": 182.0, "T": 401}, {"txt": "L7", "t": 206.1, "T": 401},
 {"txt": "240 mm", "t": 215.9, "T": 203}]}, "mark": {"type": "text", "align": "center", "baseline": "middle", "font": "Liberation Sans", "fontSize": 19, "fontWeight": "bold", "color": "#ff0000"}, "encoding": {"text": {"field": "txt"}}},
{"data": {"values": [
 {"txt": "L2", "t": 40.0, "T": 232}, {"txt": "L3", "t": 72.1, "T": 232}, {"txt": "L4", "t": 97.1, "T": 232}, {"txt": "L5", "t": 117.9, "T": 232}, {"txt": "L6", "t": 163.7, "T": 232}, {"txt": "L7", "t": 181.3, "T": 232}]}, "mark": {"type": "text", "align": "center", "baseline": "middle", "font": "Liberation Sans", "fontSize": 19, "fontWeight": "bold", "color": "#129212"}, "encoding": {"text": {"field": "txt"}}},
{"data": {"values": [{"txt": "L0", "t": 20.4, "T": 213.6}, {"txt": "-5 mm", "t": 22.4, "T": 171.7}]}, "mark": {"type": "text", "align": "center", "baseline": "middle", "font": "Liberation Sans", "fontSize": 19, "fontWeight": "bold", "color": "black"}, "encoding": {"text": {"field": "txt"}}}
]
}
